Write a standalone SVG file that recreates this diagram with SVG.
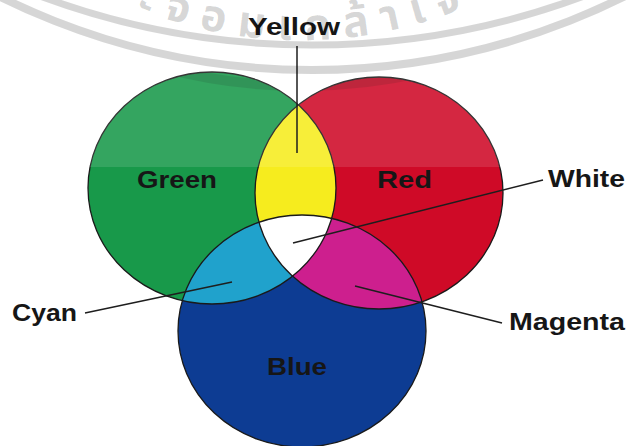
<svg xmlns="http://www.w3.org/2000/svg" width="629" height="446" viewBox="0 0 629 446">
  <style>
    .lbl { font-family: "Liberation Sans", Arial, sans-serif; font-weight: bold; font-size: 24px; fill: #161616; }
    .edge { fill: none; stroke: #1a1a1a; stroke-width: 1.3; }
    .conn { stroke: #1e1e1e; stroke-width: 1.5; fill: none; }
    .wm { fill: none; stroke: #000; stroke-opacity: 0.16; }
    .wmtext { font-family: "Noto Sans Thai", "Noto Sans", "DejaVu Sans", sans-serif; font-size: 44px; font-weight: bold; fill: #000; fill-opacity: 0.16; }
  </style>
  <defs>
    <ellipse id="eG" cx="212" cy="188" rx="124" ry="116"/>
    <ellipse id="eR" cx="379" cy="193" rx="124" ry="116"/>
    <ellipse id="eB" cx="302" cy="331" rx="124" ry="116"/>
    <clipPath id="cG"><use href="#eG"/></clipPath>
    <clipPath id="cR"><use href="#eR"/></clipPath>
    <clipPath id="cGR"><use href="#eG"/><use href="#eR"/></clipPath>
    <path id="wmArc" d="M 100,-9 A 430,430 0 0 0 500,-9"/>
  </defs>

  <rect x="0" y="0" width="629" height="446" fill="#ffffff"/>

  <g id="green"><use href="#eG" fill="#18994a"/></g>
  <g id="red"><use href="#eR" fill="#cf0a27"/></g>
  <g id="yellow"><use href="#eR" fill="#f6ec1e" clip-path="url(#cG)"/></g>
  <g id="blue"><use href="#eB" fill="#0d3c93"/></g>
  <g id="cyan"><use href="#eB" fill="#20a2cc" clip-path="url(#cG)"/></g>
  <g id="magenta"><use href="#eB" fill="#cd1f8e" clip-path="url(#cR)"/></g>
  <g id="white"><g clip-path="url(#cG)"><use href="#eB" fill="#ffffff" clip-path="url(#cR)"/></g></g>

  <g clip-path="url(#cGR)">
    <circle cx="302" cy="-454" r="540" fill="none" stroke="#000" stroke-opacity="0.12" stroke-width="10"/>
  </g>

  <g id="outlines">
    <use href="#eG" class="edge"/>
    <use href="#eR" class="edge"/>
    <use href="#eB" class="edge"/>
  </g>

  <rect x="0" y="0" width="629" height="167" fill="#ffffff" fill-opacity="0.12"/>

  <g id="connectors">
    <line class="conn" x1="297" y1="46" x2="297" y2="153"/>
    <line class="conn" x1="543" y1="180" x2="293" y2="243"/>
    <line class="conn" x1="85" y1="313" x2="232" y2="282"/>
    <line class="conn" x1="355" y1="286" x2="502" y2="323"/>
  </g>

  <g id="labels">
    <text class="lbl" x="248" y="35" textLength="92" lengthAdjust="spacingAndGlyphs">Yellow</text>
    <text class="lbl" x="137" y="188" textLength="80" lengthAdjust="spacingAndGlyphs">Green</text>
    <text class="lbl" x="377" y="188" textLength="55" lengthAdjust="spacingAndGlyphs">Red</text>
    <text class="lbl" x="548" y="187" textLength="77" lengthAdjust="spacingAndGlyphs">White</text>
    <text class="lbl" x="12" y="321" textLength="65" lengthAdjust="spacingAndGlyphs">Cyan</text>
    <text class="lbl" x="509" y="330" textLength="116" lengthAdjust="spacingAndGlyphs">Magenta</text>
    <text class="lbl" x="267" y="375" textLength="60" lengthAdjust="spacingAndGlyphs">Blue</text>
  </g>

  <g id="watermark">
    <circle class="wm" cx="312" cy="-735" r="780" stroke-width="7"/>
    <circle class="wm" cx="312" cy="-630" r="700" stroke-width="8"/>
    <text class="wmtext"><textPath href="#wmArc" startOffset="40" textLength="335" lengthAdjust="spacing">ะจอมเกล้าเจ</textPath></text>
  </g>
</svg>
